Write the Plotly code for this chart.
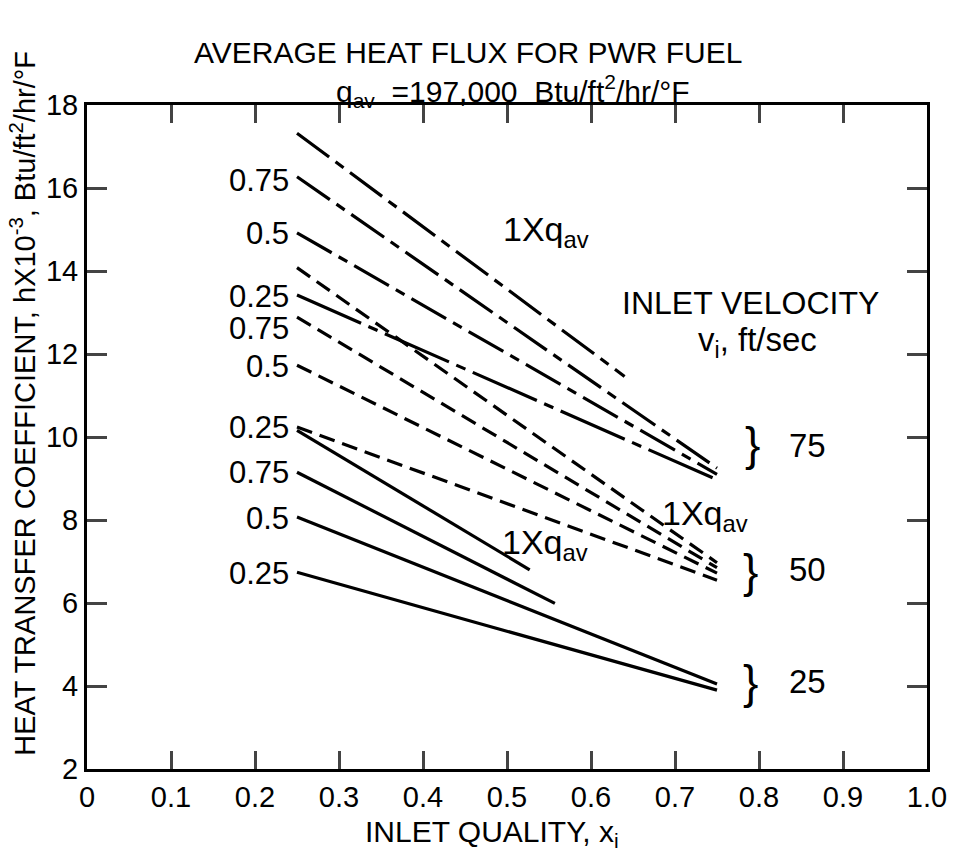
import plotly.graph_objects as go

# ---- data ----
x_ticks = [0, 0.1, 0.2, 0.3, 0.4, 0.5, 0.6, 0.7, 0.8, 0.9, 1.0]
x_tick_text = ["0", "0.1", "0.2", "0.3", "0.4", "0.5", "0.6", "0.7", "0.8", "0.9", "1.0"]
y_ticks = [2, 4, 6, 8, 10, 12, 14, 16, 18]

# velocity 75 ft/sec (dash-dot)
v75_1x_x = [0.25, 0.64];   v75_1x_y = [17.32, 11.46]
v75_075_x = [0.25, 0.75];  v75_075_y = [16.27, 9.25]
v75_05_x = [0.25, 0.75];   v75_05_y = [14.92, 9.10]
v75_025_x = [0.25, 0.75];  v75_025_y = [13.42, 8.97]
# velocity 50 ft/sec (dashed)
v50_1x_x = [0.25, 0.75];   v50_1x_y = [14.08, 6.97]
v50_075_x = [0.25, 0.75];  v50_075_y = [12.89, 6.85]
v50_05_x = [0.25, 0.75];   v50_05_y = [11.73, 6.72]
v50_025_x = [0.25, 0.75];  v50_025_y = [10.24, 6.55]
# velocity 25 ft/sec (solid)
v25_1x_x = [0.25, 0.527];  v25_1x_y = [10.16, 6.80]
v25_075_x = [0.25, 0.557]; v25_075_y = [9.15, 5.99]
v25_05_x = [0.25, 0.75];   v25_05_y = [8.07, 4.05]
v25_025_x = [0.25, 0.75];  v25_025_y = [6.74, 3.90]

left_labels = ["0.75", "0.5", "0.25", "0.75", "0.5", "0.25", "0.75", "0.5", "0.25"]
left_label_y = [16.19, 14.90, 13.38, 12.61, 11.69, 10.24, 9.15, 8.03, 6.70]

FONT = "Liberation Sans"
DASHDOT = "40px,8px,10px,8px"
DASHDOT_LONG = "70px,8px,10px,8px"
DASH = "16px,8px"

fig = go.Figure()

def add(x, y, dash):
    fig.add_trace(go.Scatter(x=x, y=y, mode="lines",
                             line=dict(color="black", width=3.2, dash=dash),
                             showlegend=False, hoverinfo="skip"))

add(v75_1x_x, v75_1x_y, DASHDOT)
add(v75_075_x, v75_075_y, DASHDOT)
add(v75_05_x, v75_05_y, DASHDOT)
add(v75_025_x, v75_025_y, DASHDOT_LONG)
add(v50_1x_x, v50_1x_y, DASH)
add(v50_075_x, v50_075_y, DASH)
add(v50_05_x, v50_05_y, DASH)
add(v50_025_x, v50_025_y, DASH)
add(v25_1x_x, v25_1x_y, "solid")
add(v25_075_x, v25_075_y, "solid")
add(v25_05_x, v25_05_y, "solid")
add(v25_025_x, v25_025_y, "solid")

ann = []
for t, yy in zip(left_labels, left_label_y):
    ann.append(dict(x=0.243, y=yy, text=t, xanchor="right", yanchor="middle",
                    showarrow=False, font=dict(size=31)))

qav = "1Xq<sub>av</sub>"
ann += [
    dict(x=0.546, y=14.95, text=qav, showarrow=False, font=dict(size=34)),
    dict(x=0.736, y=8.1, text=qav, showarrow=False, font=dict(size=34)),
    dict(x=0.545, y=7.4, text=qav, showarrow=False, font=dict(size=34)),
    dict(x=0.790, y=13.22, text="INLET VELOCITY", showarrow=False, font=dict(size=32)),
    dict(x=0.798, y=12.3, text="v<sub>i</sub>, ft/sec", showarrow=False, font=dict(size=33)),
    dict(x=0.792, y=9.82, text="}", showarrow=False, font=dict(size=46)),
    dict(x=0.858, y=9.8, text="75", showarrow=False, font=dict(size=33)),
    dict(x=0.790, y=6.76, text="}", showarrow=False, font=dict(size=46)),
    dict(x=0.858, y=6.8, text="50", showarrow=False, font=dict(size=33)),
    dict(x=0.790, y=4.1, text="}", showarrow=False, font=dict(size=46)),
    dict(x=0.858, y=4.12, text="25", showarrow=False, font=dict(size=33)),
]
# titles (paper coords)
ann += [
    dict(xref="paper", yref="paper", x=0.4535, y=1.107, text="AVERAGE HEAT FLUX FOR PWR FUEL",
         showarrow=False, font=dict(size=30)),
    dict(xref="paper", yref="paper", x=0.507, y=1.056,
         text="q<sub>av</sub>  =197,000  Btu/ft<sup>2</sup>/hr/°F", showarrow=False,
         font=dict(size=30)),
    dict(xref="paper", yref="paper", x=-0.1, y=0.55, textangle=-90, xanchor="left",
         text="HEAT TRANSFER COEFFICIENT, hX10<sup>-3</sup>, Btu/ft<sup>2</sup>/hr/°F",
         showarrow=False, font=dict(size=29)),
    dict(xref="paper", yref="paper", x=0.482, y=-0.097, text="INLET QUALITY, x<sub>i</sub>",
         showarrow=False, font=dict(size=30), yanchor="middle"),
]

fig.update_layout(
    width=960, height=855,
    margin=dict(l=87, r=33, t=105, b=86),
    paper_bgcolor="white", plot_bgcolor="white",
    font=dict(family=FONT, color="black", size=28),
    annotations=ann,
    xaxis=dict(range=[0, 1], tickvals=x_ticks, ticktext=x_tick_text, ticks="inside",
               ticklen=18, tickwidth=2.5, showline=True, linewidth=3, linecolor="black",
               mirror="ticks", showgrid=False, zeroline=False,
               tickfont=dict(size=29)),
    yaxis=dict(range=[2, 18], tickvals=y_ticks, ticks="inside", ticklen=20, tickwidth=2.5,
               showline=True, linewidth=3, linecolor="black", mirror="ticks",
               showgrid=False, zeroline=False, tickfont=dict(size=29)),
)

fig.write_html("out.html")
